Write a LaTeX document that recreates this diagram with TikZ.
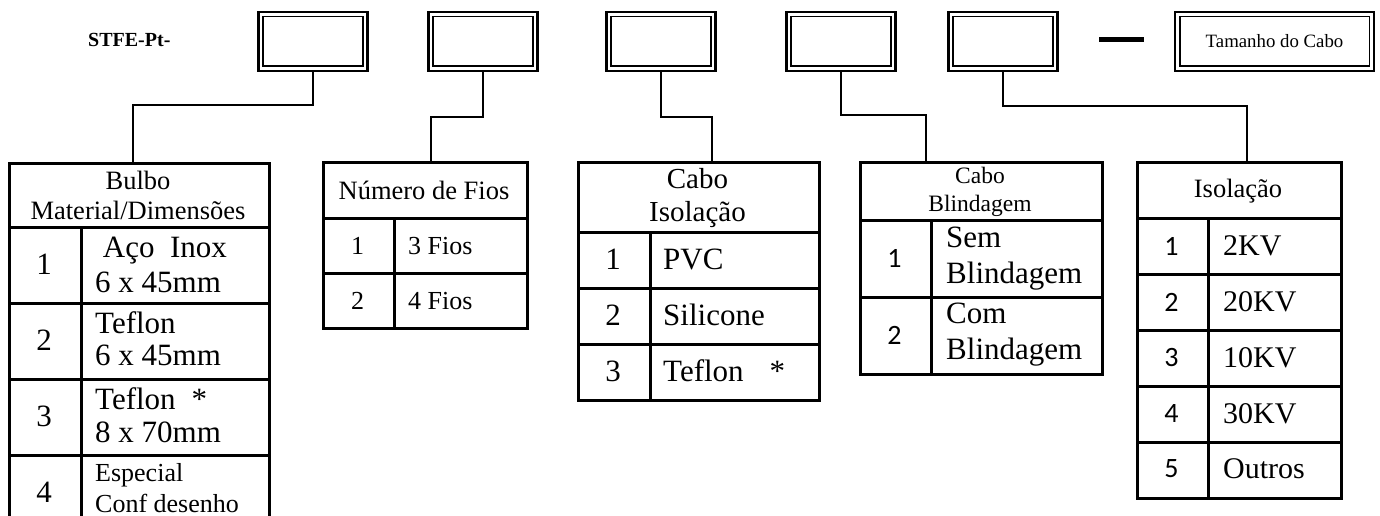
\documentclass[tikz,border=0pt]{standalone}
\usepackage{fontspec}
\setmainfont{Liberation Serif}
\newfontfamily\calfont{Carlito}
\newcommand\myfs[2]{\fontsize{#1}{#2}\selectfont}
\begin{document}
\begin{tikzpicture}[x=1pt,y=-1pt,
  cell/.style={draw, line width=3pt, inner sep=0pt, anchor=north west},
  obox/.style={draw, line width=2.7pt, inner sep=0pt, minimum width=109pt, minimum height=59pt},
  conn/.style={line width=1.5pt},
  txt/.style={inner sep=0pt, align=left, anchor=west},
  ctxt/.style={inner sep=0pt, align=center}
]
\useasboundingbox (0,0) rectangle (1380,516);
\clip (0,0) rectangle (1380,516);

% top label
\node[inner sep=0pt, anchor=west, font=\bfseries\myfs{20}{24}] (lbl) at (88,40) {STFE-Pt-};

% top boxes
\node[obox] (b1) at (313,41.5) {};
\node[obox] (b2) at (483,41.5) {};
\node[obox] (b3) at (661,41.5) {};
\node[obox] (b4) at (841,41.5) {};
\node[obox] (b5) at (1003,41.5) {};
\node[obox, minimum width=199pt] (b6) at (1274.5,41.5) {\myfs{18.8}{22}Tamanho do Cabo};
\foreach \b in {b1,b2,b3,b4,b5,b6}
  \draw[line width=1.7pt] ([shift={(6,6)}]\b.north west) rectangle ([shift={(-6,-6)}]\b.south east);
\node[fill, inner sep=0pt, minimum width=45pt, minimum height=5.5pt] (dash) at (1121.5,39.5) {};

% connectors
\coordinate (j1) at (133,105);  \coordinate (e1) at (133,162);
\coordinate (j2) at (431,117);  \coordinate (e2) at (431,161);
\coordinate (j3) at (712,117);  \coordinate (e3) at (712,161);
\coordinate (j4) at (926,115);  \coordinate (e4) at (926,161);
\coordinate (j5) at (1247,106); \coordinate (e5) at (1247,161);
\draw[conn] (b1.south) |- (j1) -- (e1);
\draw[conn] (b2.south) |- (j2) -- (e2);
\draw[conn] (b3.south) |- (j3) -- (e3);
\draw[conn] (b4.south) |- (j4) -- (e4);
\draw[conn] (b5.south) |- (j5) -- (e5);

% ---------- Table 1 ----------
\node[cell, minimum width=260pt, minimum height=64pt] (h1) at (8,162) {};
\foreach \y/\n in {226/a,302/b,378/c,454/d}{
  \node[cell, minimum width=72pt, minimum height=76pt] (t1n\n) at (8,\y) {};
  \node[cell, minimum width=188pt, minimum height=76pt] (t1t\n) at (80,\y) {};
}
\node[ctxt, font=\myfs{26.5}{30}] (h1t) at (138,195) {Bulbo\\Material/Dimensões};
\node[ctxt, font=\myfs{31}{35}] (n1a) at (44,264) {1};
\node[ctxt, font=\myfs{31}{35}] (n1b) at (44,340) {2};
\node[ctxt, font=\myfs{31}{35}] (n1c) at (44,416) {3};
\node[ctxt, font=\myfs{31}{35}] (n1d) at (44,492) {4};
\node[txt, font=\myfs{31}{35}] (x1a) at (95,265) {\ Aço\ \ Inox\\6 x 45mm};
\node[txt, font=\myfs{31}{32}] (x1b) at (95,339) {Teflon\\6 x 45mm};
\node[txt, font=\myfs{31}{33}] (x1c) at (95,415) {Teflon\hspace{16pt}*\\8 x 70mm};
\node[txt, font=\myfs{26}{31}] (x1d) at (95,488) {Especial\\Conf desenho};

% ---------- Table 2 ----------
\node[cell, minimum width=204pt, minimum height=56pt] (h2) at (322,161) {};
\foreach \y/\n in {217/a,272/b}{
  \node[cell, minimum width=71pt, minimum height=55pt] (t2n\n) at (322,\y) {};
  \node[cell, minimum width=133pt, minimum height=55pt] (t2t\n) at (393,\y) {};
}
\node[ctxt, font=\myfs{26.5}{30}] (h2t) at (424,190) {Número de Fios};
\node[ctxt, font=\myfs{26}{30}] (n2a) at (357.5,246) {1};
\node[ctxt, font=\myfs{26}{30}] (n2b) at (357.5,301) {2};
\node[txt, font=\myfs{26}{30}] (x2a) at (408,246) {3 Fios};
\node[txt, font=\myfs{26}{30}] (x2b) at (408,301) {4 Fios};

% ---------- Table 3 ----------
\node[cell, minimum width=241pt, minimum height=70pt] (h3) at (577,161) {};
\foreach \y/\n in {231/a,287/b,343/c}{
  \node[cell, minimum width=72pt, minimum height=56pt] (t3n\n) at (577,\y) {};
  \node[cell, minimum width=169pt, minimum height=56pt] (t3t\n) at (649,\y) {};
}
\node[ctxt, font=\myfs{29}{33}] (h3t) at (697.5,198) {Cabo\\Isolação};
\node[ctxt, font=\myfs{31}{35}] (n3a) at (613,259) {1};
\node[ctxt, font=\myfs{31}{35}] (n3b) at (613,315) {2};
\node[ctxt, font=\myfs{31}{35}] (n3c) at (613,371) {3};
\node[txt, font=\myfs{31}{35}] (x3a) at (663,259) {PVC};
\node[txt, font=\myfs{31}{35}] (x3b) at (663,315) {Silicone};
\node[txt, font=\myfs{31}{35}] (x3c) at (663,371) {Teflon\hspace{26pt}*};

% ---------- Table 4 ----------
\node[cell, minimum width=242pt, minimum height=58pt] (h4) at (859,161) {};
\foreach \y/\n in {219/a,296/b}{
  \node[cell, minimum width=71pt, minimum height=77pt] (t4n\n) at (859,\y) {};
  \node[cell, minimum width=171pt, minimum height=77pt] (t4t\n) at (930,\y) {};
}
\node[ctxt, font=\myfs{23.5}{28}] (h4t) at (980,192) {Cabo\\Blindagem};
\node[ctxt, font=\calfont\myfs{28}{32}] (n4a) at (894.5,258) {1};
\node[ctxt, font=\calfont\myfs{28}{32}] (n4b) at (894.5,335) {2};
\node[txt, font=\myfs{31}{36}] (x4a) at (946,258.5) {Sem\\Blindagem};
\node[txt, font=\myfs{31}{36}] (x4b) at (946,335) {Com\\Blindagem};

% ---------- Table 5 ----------
\node[cell, minimum width=204pt, minimum height=56pt] (h5) at (1136,161) {};
\foreach \y/\n in {217/a,273/b,329/c,385/d,441/e}{
  \node[cell, minimum width=71pt, minimum height=56pt] (t5n\n) at (1136,\y) {};
  \node[cell, minimum width=133pt, minimum height=56pt] (t5t\n) at (1207,\y) {};
}
\node[ctxt, font=\myfs{26.5}{30}] (h5t) at (1238,191) {Isolação};
\node[ctxt, font=\calfont\myfs{28}{32}] (n5a) at (1171.5,246) {1};
\node[ctxt, font=\calfont\myfs{28}{32}] (n5b) at (1171.5,302) {2};
\node[ctxt, font=\calfont\myfs{28}{32}] (n5c) at (1171.5,358) {3};
\node[ctxt, font=\calfont\myfs{28}{32}] (n5d) at (1171.5,414) {4};
\node[ctxt, font=\calfont\myfs{28}{32}] (n5e) at (1171.5,469) {5};
\node[txt, font=\myfs{30}{34}] (x5a) at (1223,246) {2KV};
\node[txt, font=\myfs{30}{34}] (x5b) at (1223,302) {20KV};
\node[txt, font=\myfs{30}{34}] (x5c) at (1223,358) {10KV};
\node[txt, font=\myfs{30}{34}] (x5d) at (1223,414) {30KV};
\node[txt, font=\myfs{30}{34}] (x5e) at (1223,469) {Outros};
\end{tikzpicture}
\end{document}
